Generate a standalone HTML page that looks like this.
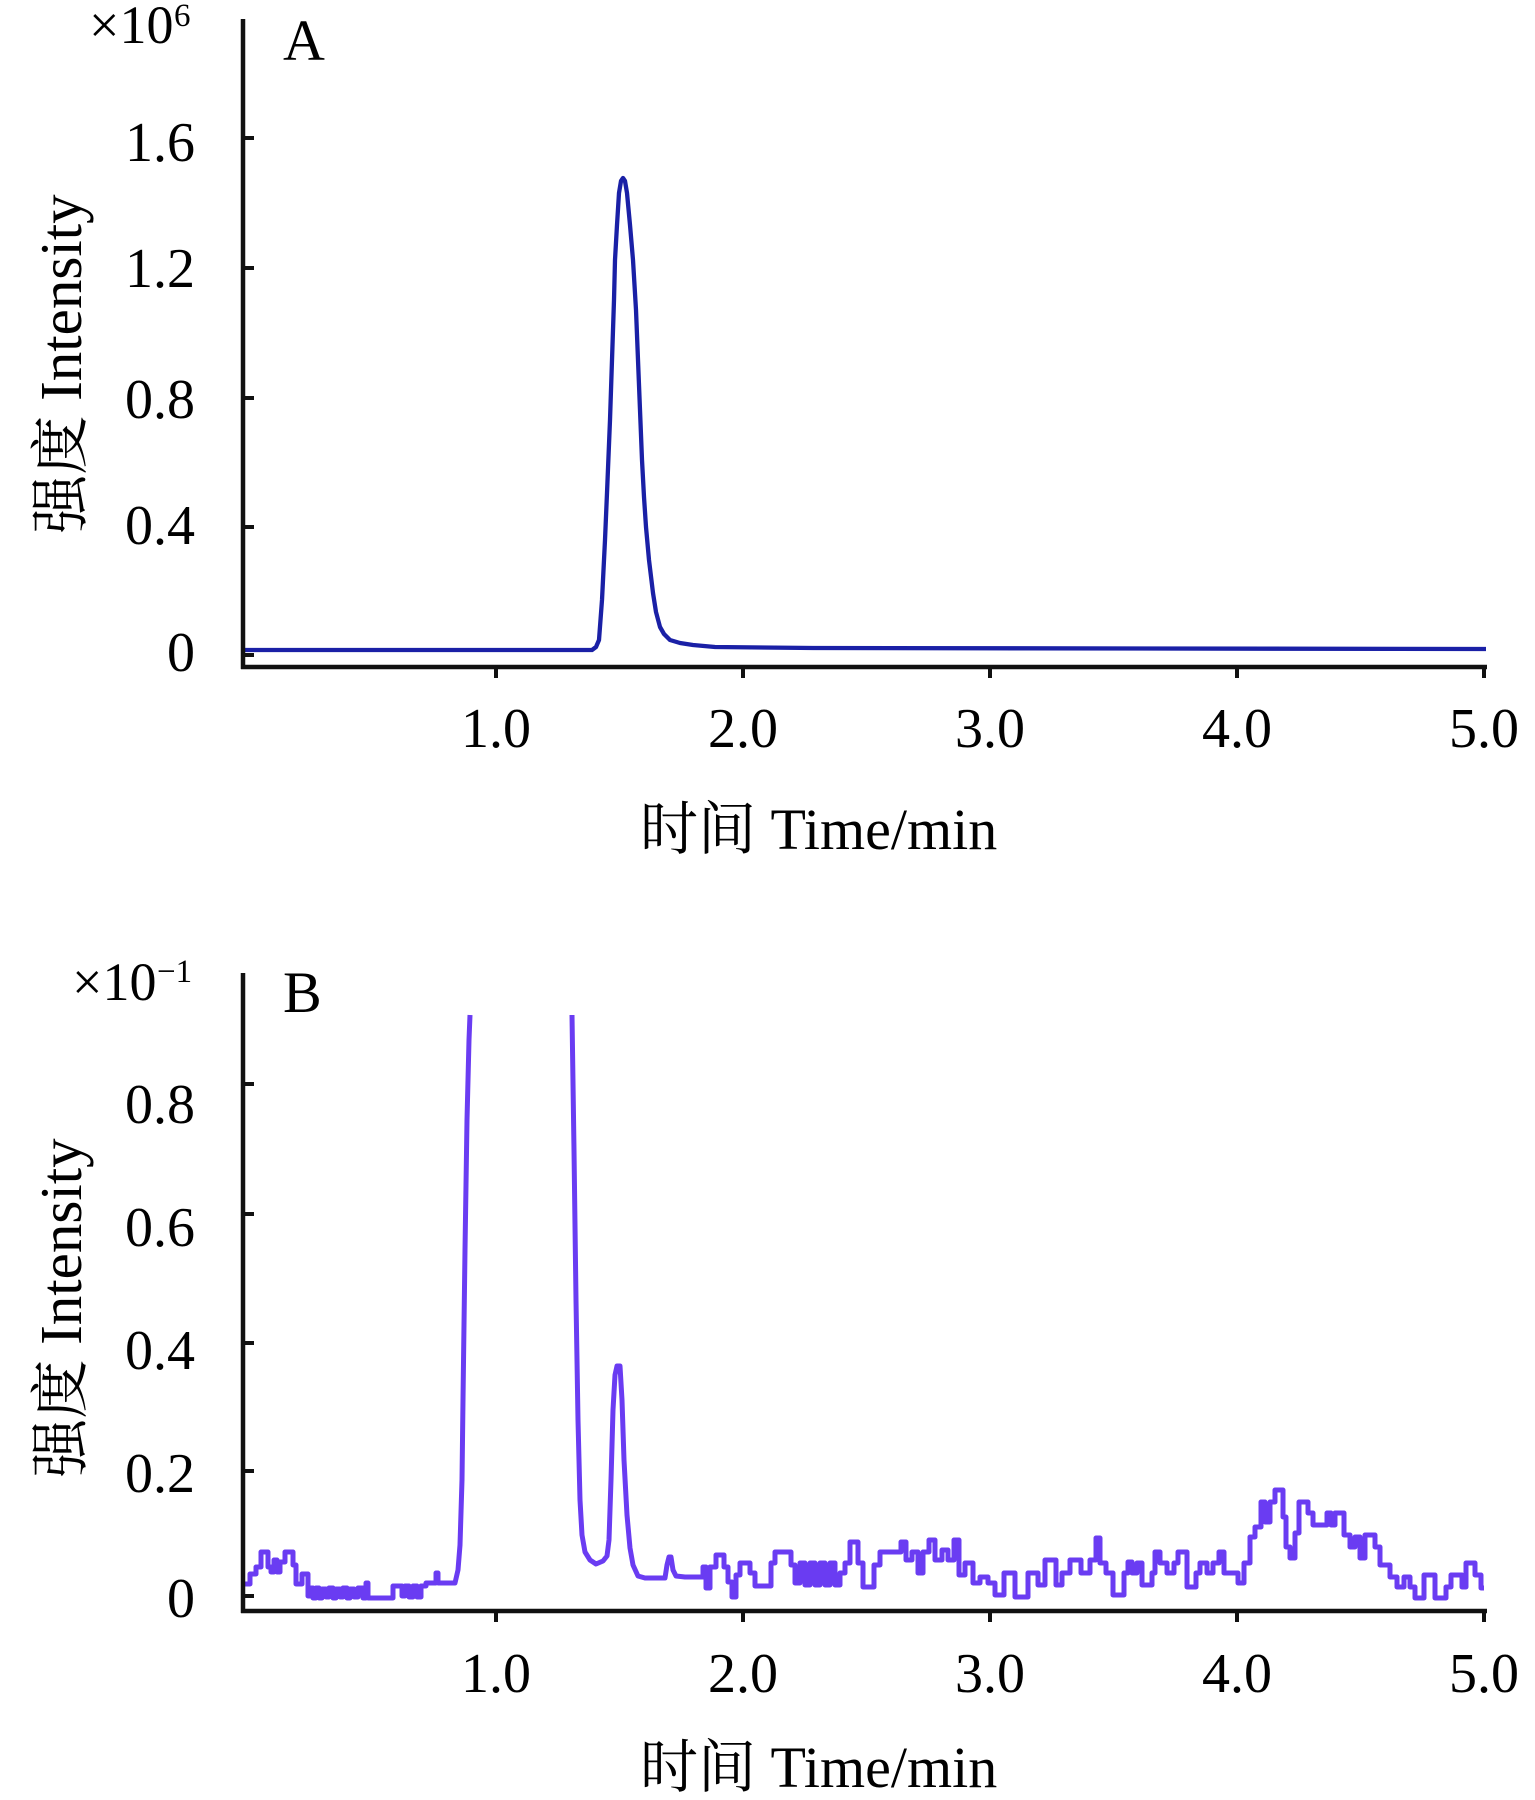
<!DOCTYPE html>
<html>
<head>
<meta charset="utf-8">
<style>
  html, body { margin: 0; padding: 0; background: #ffffff; }
  svg { display: block; }
  .t { font-family: "Liberation Serif", "Noto Serif CJK SC", serif; fill: #000; }
</style>
</head>
<body>
<svg width="1535" height="1800" viewBox="0 0 1535 1800" xmlns="http://www.w3.org/2000/svg">
  <rect x="0" y="0" width="1535" height="1800" fill="#ffffff"/>

  <!-- ================= PANEL A ================= -->
  <path d="M245,650 H592 L596,647 L599,640 L602,600 L605,540 L607,493 L610,420 L612,360 L614,300 L615,260 L617,225 L619,193 L621,181 L623,178 L625,181 L627,193 L630,225 L633,260 L636,310 L638,360 L640,410 L642,460 L644,497 L646,527 L649,560 L653,593 L656,612 L660,627 L664,634 L670,640 L680,643 L693,645 L715,647 L813,648 L1486,649"
        fill="none" stroke="#1a20a6" stroke-width="4.3" stroke-linejoin="round"/>
  <line x1="243" y1="19" x2="243" y2="669" stroke="#111" stroke-width="4.5"/>
  <line x1="241" y1="667" x2="1487" y2="667" stroke="#111" stroke-width="4.5"/>
  <g stroke="#111" stroke-width="4">
    <line x1="243" y1="138" x2="254" y2="138"/>
    <line x1="243" y1="268" x2="254" y2="268"/>
    <line x1="243" y1="398" x2="254" y2="398"/>
    <line x1="243" y1="527" x2="254" y2="527"/>
    <line x1="243" y1="655" x2="254" y2="655"/>
  </g>
  <g stroke="#111" stroke-width="4">
    <line x1="496" y1="667" x2="496" y2="678"/>
    <line x1="743" y1="667" x2="743" y2="678"/>
    <line x1="990" y1="667" x2="990" y2="678"/>
    <line x1="1237" y1="667" x2="1237" y2="678"/>
    <line x1="1484" y1="667" x2="1484" y2="678"/>
  </g>
  <g class="t" font-size="56" text-anchor="end">
    <text x="195" y="161">1.6</text>
    <text x="195" y="287">1.2</text>
    <text x="195" y="418">0.8</text>
    <text x="195" y="544">0.4</text>
    <text x="195" y="671">0</text>
  </g>
  <g class="t" font-size="56" text-anchor="middle">
    <text x="496" y="747">1.0</text>
    <text x="743" y="747">2.0</text>
    <text x="990" y="747">3.0</text>
    <text x="1237" y="747">4.0</text>
    <text x="1484" y="747">5.0</text>
  </g>
  <text class="t" x="89" y="43" font-size="54">×10</text>
  <text class="t" x="174" y="26" font-size="33">6</text>
  <text class="t" x="283" y="60" font-size="58">A</text>
  <text class="t" x="640" y="849" font-size="58">时间 Time/min</text>
  <text class="t" font-size="59" text-anchor="middle" transform="translate(81,364) rotate(-90)">强度 Intensity</text>

  <!-- ================= PANEL B ================= -->
  <g fill="none" stroke="#6a3cf2" stroke-width="5" stroke-linejoin="round">
    <path d="M245,1584 H250 V1574 H256 V1567 H261 V1552 H268 V1567 H271 V1572 H274 V1560 H277 V1572 H280 V1562 H285 V1552 H293 V1565 H296 V1584 H302 V1574 H308 V1596 H311 V1588 H313 V1598 H316 V1588 H319 V1598 H322 V1589 H326 V1597 H329 V1588 H333 V1598 H336 V1589 H340 V1597 H343 V1588 H347 V1598 H350 V1589 H354 V1597 H358 V1588 H363 V1598 H366 V1583 H368 V1598 H393 V1586 H402 V1596 H405 V1586 H409 V1597 H413 V1586 H417 V1597 H421 V1586 H426 V1583 H436 V1573 H438 V1583 H455 L458,1570 L460,1545 L462,1480 L463,1400 L465,1250 L467,1120 L469,1040 L470,1015"/>
    <path d="M572,1015 L574,1150 L576,1300 L578,1420 L580,1500 L582,1535 L585,1552 L590,1560 L596,1564 L603,1561 L607,1556 L609,1540 L611,1480 L613,1410 L615,1375 L617,1366 L620,1366 L622,1400 L624,1460 L627,1515 L630,1548 L633,1565 L638,1576 L645,1578 L665,1578 L667,1565 L669,1557 L671,1557 L673,1570 L676,1576 L685,1577
      H703 V1567 H706 V1588 H710 V1567 H716 V1555 H724 V1567 H728 V1582 H732 V1597 H736 V1575 H740 V1563 H750 V1573 H755 V1586 H771 V1563 H775 V1552 H791 V1565 H795 V1583 H800 V1563 H805 V1585 H810 V1563 H815 V1585 H820 V1563 H825 V1585 H830 V1563 H835 V1585 H840 V1573 H845 V1563 H850 V1542 H858 V1563 H863 V1587 H874 V1565 H880 V1552 H901 V1542 H906 V1560 H912 V1552 H918 V1573 H923 V1552 H929 V1540 H935 V1560 H942 V1550 H948 V1560 H954 V1540 H959 V1575 H965 V1563 H973 V1583 H980 V1577 H988 V1583 H995 V1595 H1004 V1573 H1015 V1597 H1028 V1573 H1038 V1585 H1045 V1560 H1056 V1585 H1062 V1573 H1070 V1560 H1081 V1573 H1090 V1560 H1096 V1538 H1100 V1563 H1106 V1573 H1113 V1595 H1124 V1573 H1128 V1562 H1132 V1573 H1137 V1563 H1142 V1585 H1152 V1573 H1155 V1552 H1160 V1563 H1167 V1573 H1174 V1563 H1178 V1552 H1187 V1587 H1196 V1573 H1200 V1563 H1207 V1573 H1213 V1563 H1219 V1552 H1224 V1573 H1238 V1583 H1244 V1563 H1250 V1537 H1255 V1527 H1261 V1502 H1265 V1522 H1270 V1502 H1275 V1490 H1283 V1517 H1286 V1547 H1290 V1558 H1295 V1533 H1299 V1502 H1308 V1513 H1313 V1525 H1327 V1513 H1331 V1525 H1335 V1513 H1344 V1535 H1350 V1547 H1355 V1537 H1360 V1558 H1365 V1535 H1375 V1547 H1380 V1565 H1390 V1577 H1397 V1587 H1404 V1577 H1410 V1587 H1415 V1598 H1424 V1575 H1435 V1598 H1446 V1587 H1451 V1575 H1462 V1587 H1466 V1563 H1475 V1575 H1481 V1588 H1484"/>
  </g>
  <line x1="243" y1="973" x2="243" y2="1613" stroke="#111" stroke-width="4.5"/>
  <line x1="241" y1="1611" x2="1487" y2="1611" stroke="#111" stroke-width="4.5"/>
  <g stroke="#111" stroke-width="4">
    <line x1="243" y1="1084" x2="254" y2="1084"/>
    <line x1="243" y1="1214" x2="254" y2="1214"/>
    <line x1="243" y1="1343" x2="254" y2="1343"/>
    <line x1="243" y1="1471" x2="254" y2="1471"/>
    <line x1="243" y1="1596" x2="254" y2="1596"/>
  </g>
  <g stroke="#111" stroke-width="4">
    <line x1="496" y1="1611" x2="496" y2="1622"/>
    <line x1="743" y1="1611" x2="743" y2="1622"/>
    <line x1="990" y1="1611" x2="990" y2="1622"/>
    <line x1="1237" y1="1611" x2="1237" y2="1622"/>
    <line x1="1484" y1="1611" x2="1484" y2="1622"/>
  </g>
  <g class="t" font-size="56" text-anchor="end">
    <text x="195" y="1123">0.8</text>
    <text x="195" y="1246">0.6</text>
    <text x="195" y="1369">0.4</text>
    <text x="195" y="1492">0.2</text>
    <text x="195" y="1617">0</text>
  </g>
  <g class="t" font-size="56" text-anchor="middle">
    <text x="496" y="1692">1.0</text>
    <text x="743" y="1692">2.0</text>
    <text x="990" y="1692">3.0</text>
    <text x="1237" y="1692">4.0</text>
    <text x="1484" y="1692">5.0</text>
  </g>
  <text class="t" x="72" y="1000" font-size="54">×10</text>
  <text class="t" x="157" y="982" font-size="33">−1</text>
  <text class="t" x="283" y="1012" font-size="58">B</text>
  <text class="t" x="640" y="1787" font-size="58">时间 Time/min</text>
  <text class="t" font-size="59" text-anchor="middle" transform="translate(81,1308) rotate(-90)">强度 Intensity</text>
</svg>
</body>
</html>
